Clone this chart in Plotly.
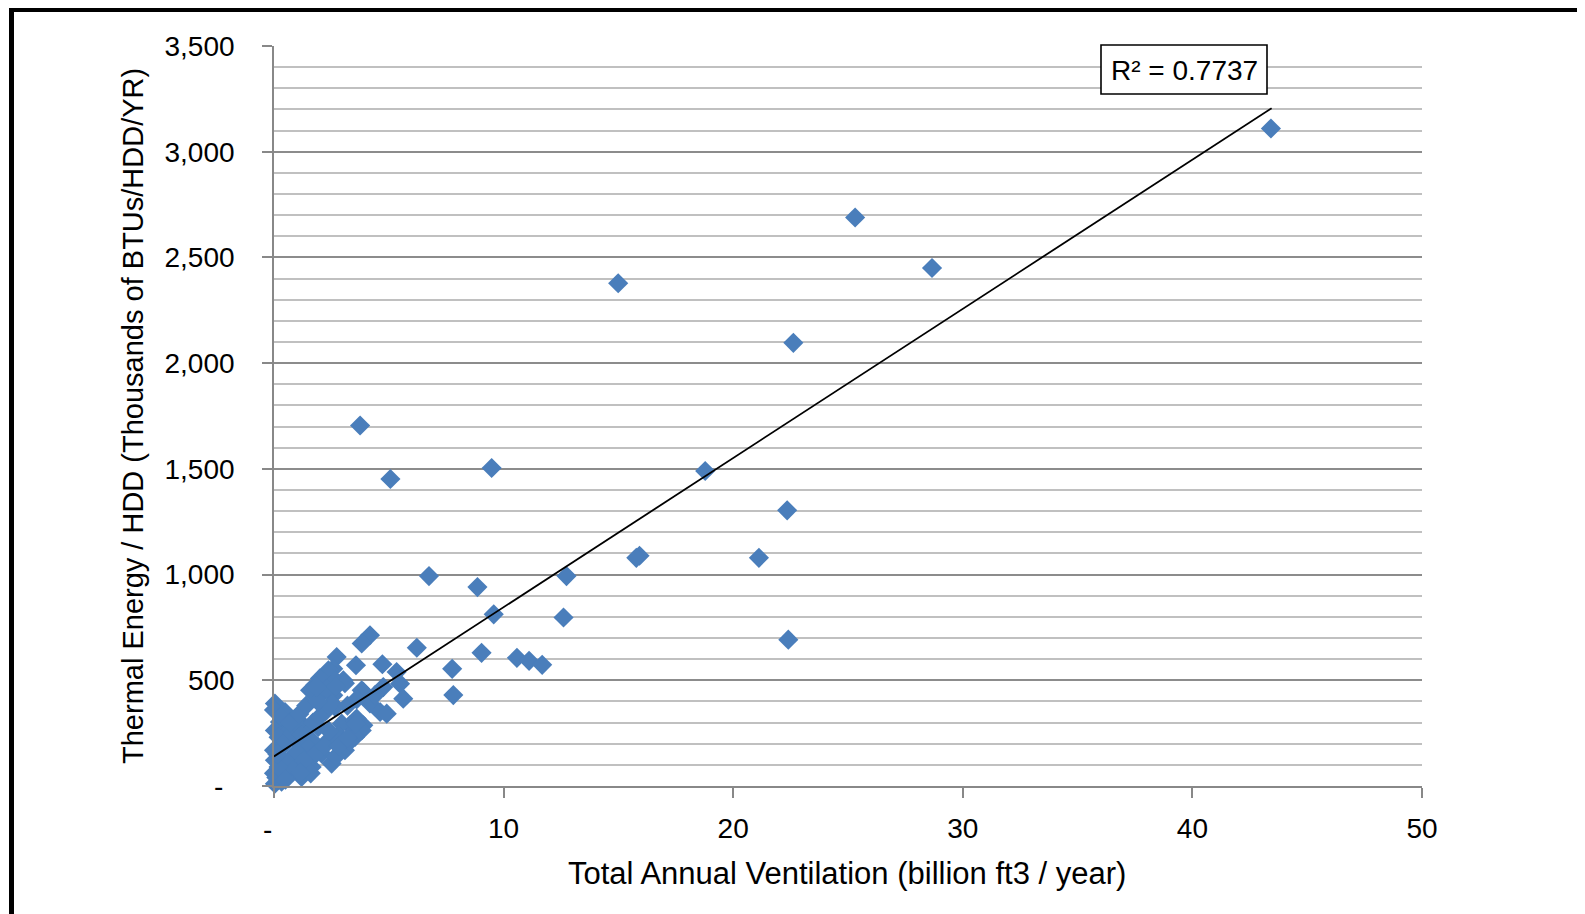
import plotly.graph_objects as go

# ---- data ----
vent = [43.42, 25.31, 28.66, 14.99, 22.62, 3.75, 5.07, 9.48, 18.78, 22.35,
        15.92, 15.78, 21.12, 12.74, 6.75, 8.86, 9.57, 12.61, 22.40, 6.22,
        9.04, 10.58, 11.11, 11.68, 7.76, 7.81,
        4.18, 3.82, 2.73, 3.57, 4.72, 5.34, 3.02, 2.58, 4.76, 5.49,
        3.89, 5.63, 4.18, 4.62, 4.91, 3.60, 3.31, 3.89, 2.58, 2.66,
        2.37, 2.00, 1.79, 2.66, 3.09, 3.82, 2.08, 1.57, 2.51, 2.22,
        0.04, 0.00, 0.48, 0.91, 0.26, 0.04, 0.62, 1.35, 1.93, 2.95,
        3.53, 3.82, 2.95, 3.53, 2.37, 1.64, 1.06, 0.33, 0.00, 0.04,
        0.77, 2.08, 3.09, 2.51, 1.64, 1.20, 0.48, 0.00, 0.04, 0.33,
        0.20, 0.50, 0.80, 1.00, 1.20, 1.50, 1.80, 2.20, 2.80, 1.00,
        0.60, 0.90, 1.30, 1.70, 2.00, 2.40, 0.30, 0.70, 1.10, 1.40,
        1.90, 2.30, 2.70, 0.10, 0.20, 0.50, 0.15, 3.30, 2.70, 1.60,
        3.20, 3.60, 4.40, 1.15, 1.85, 2.80, 3.20, 3.56]
energy = [3110, 2689, 2450, 2378, 2096, 1705, 1452, 1504, 1490, 1304,
          1089, 1079, 1079, 993, 993, 941, 812, 797, 692, 654,
          630, 606, 592, 573, 554, 430,
          713, 674, 610, 571, 576, 539, 500, 555, 468, 484,
          445, 413, 390, 350, 342, 319, 287, 287, 429, 374,
          547, 509, 476, 500, 486, 453, 438, 453, 391, 350,
          390, 360, 350, 311, 303, 263, 256, 279, 279, 295,
          311, 263, 216, 232, 216, 216, 200, 184, 169, 122,
          137, 153, 169, 106, 90, 43, 59, 60, 11, 20,
          230, 210, 250, 290, 240, 180, 150, 190, 240, 160,
          110, 80, 120, 300, 330, 260, 330, 300, 340, 380,
          400, 460, 470, 40, 90, 30, 150, 210, 140, 60,
          380, 410, 430, 63, 470, 189, 227, 294]

trend_x = [0, 43.45]
trend_y = [140, 3206]
r2_text = "R² = 0.7737"

x_ticks = [0, 10, 20, 30, 40, 50]
x_labels = ["", "10", "20", "30", "40", "50"]
y_ticks = [0, 500, 1000, 1500, 2000, 2500, 3000, 3500]
y_labels = ["", "500", "1,000", "1,500", "2,000", "2,500", "3,000", "3,500"]

FONT = "Liberation Sans"
OFF = 8  # page body margin
W, H = 1585 - OFF, 914 - OFF
L, R, T, B = 274 - OFF, 163, 46 - OFF, 128
PW, PH = W - L - R, H - T - B


def px(X):
    return (X - OFF - L) / PW


def py(Y):
    return (H - B - (Y - OFF)) / PH


fig = go.Figure()
fig.add_trace(go.Scatter(
    x=vent, y=energy, mode="markers",
    marker=dict(symbol="diamond", size=15.5, color="#4A7EBB", line=dict(width=0)),
    cliponaxis=False, showlegend=False, hoverinfo="x+y"))
fig.add_trace(go.Scatter(
    x=trend_x, y=trend_y, mode="lines",
    line=dict(color="black", width=1.8),
    showlegend=False, hoverinfo="skip"))

fig.update_layout(
    width=W, height=H,
    margin=dict(l=L, r=R, t=T, b=B, pad=0),
    paper_bgcolor="white", plot_bgcolor="white",
    font=dict(family=FONT, size=28, color="black"),
    xaxis=dict(range=[0, 50], tickvals=x_ticks, ticktext=x_labels,
               showgrid=False, zeroline=False,
               showline=True, linecolor="#888888", linewidth=1.6,
               ticks="outside", ticklen=10, tickwidth=1.6, tickcolor="#888888",
               tickfont=dict(family=FONT, size=28, color="black"),
               ticklabelstandoff=7),
    yaxis=dict(range=[0, 3500], tickvals=y_ticks, ticktext=y_labels,
               showgrid=True, gridcolor="#8C8C8C", gridwidth=1.6,
               zeroline=False,
               showline=True, linecolor="#888888", linewidth=1.6,
               ticks="outside", ticklen=10, tickwidth=1.6, tickcolor="#888888",
               tickfont=dict(family=FONT, size=28, color="black"),
               ticklabelstandoff=22,
               minor=dict(dtick=100, showgrid=True, gridcolor="#C0C0C0", gridwidth=1.6)),
)

shapes = [
    # outer frame
    dict(type="rect", xref="paper", yref="paper",
         x0=px(11.5), x1=px(1580), y0=py(935), y1=py(9.5),
         line=dict(color="black", width=5), fillcolor="rgba(0,0,0,0)", layer="above"),
    # R² box
    dict(type="rect", xref="paper", yref="paper",
         x0=px(1101), x1=px(1267), y0=py(94), y1=py(45),
         line=dict(color="black", width=1.6), fillcolor="white", layer="above"),
]
fig.update_layout(shapes=shapes)

annotations = [
    dict(text=r2_text, xref="paper", yref="paper", x=px(1184), y=py(70),
         xanchor="center", yanchor="middle", showarrow=False,
         font=dict(family=FONT, size=28, color="black")),
    dict(text="Total Annual Ventilation (billion ft3 / year)", xref="paper", yref="paper",
         x=px(847), y=py(873), xanchor="center", yanchor="middle", showarrow=False,
         font=dict(family=FONT, size=31, color="black")),
    dict(text="Thermal Energy / HDD (Thousands of BTUs/HDD/YR)", xref="paper", yref="paper",
         x=px(133), y=py(416), xanchor="center", yanchor="middle", showarrow=False,
         textangle=-90, font=dict(family=FONT, size=29, color="black")),
    dict(text="-", xref="paper", yref="paper", x=px(267), y=py(829),
         xanchor="center", yanchor="middle", showarrow=False,
         font=dict(family=FONT, size=28, color="black")),
    dict(text="-", xref="paper", yref="paper", x=px(218), y=py(786),
         xanchor="center", yanchor="middle", showarrow=False,
         font=dict(family=FONT, size=28, color="black")),
]
fig.update_layout(annotations=annotations)

fig.write_html("out.html")
